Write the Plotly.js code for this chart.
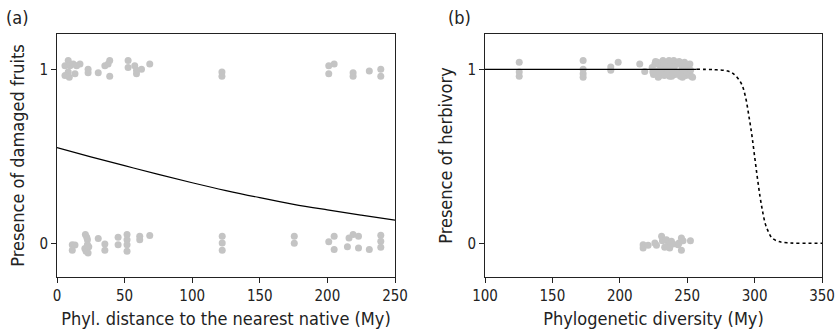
<!DOCTYPE html>
<html>
<head>
<meta charset="utf-8">
<script src="https://cdn.plot.ly/plotly-3.0.1.min.js"></script>
<style>html,body{margin:0;padding:0;background:#fff;}#chart{width:837px;height:331px;}</style>
</head>
<body>
<div id="chart"></div>
<script>
// Panel (a): observed points (phylogenetic distance, jittered presence)
const aPtsX = [5.9,8.3,9.6,8.3,12,14.5,13.3,17,23,23,30.5,35.4,39,37.8,39,52.6,52.6,57.5,58.8,58.8,62.5,68.6,5.9,9.1,
  122,122,201,205,201,219,219,231,239.5,239.5,
  11.3,11.3,13.3,21,22.5,22.5,21.5,20.6,23.5,23,22,30.5,35.4,35.4,45.2,45.2,51.8,51.8,51.8,51.8,61.2,61.2,68.6,
  122.2,122.2,122.2,175.5,175.5,205,201,205,216,219,223,214.8,223,231,239.5,239.5,239.5];
const aPtsY = [1.02,1.05,1.02,0.985,1.03,1.02,0.975,1.03,1.00,0.98,0.98,1.02,1.05,1.03,0.96,1.05,1.01,1.02,0.994,0.975,1.00,1.03,0.965,0.955,
  0.985,0.96,1.02,1.03,0.975,0.98,0.96,0.99,1.00,0.96,
  -0.008,-0.04,-0.01,0.05,0.02,-0.008,-0.046,-0.03,-0.02,-0.056,0.035,0.027,-0.004,-0.04,0.035,-0.008,0.05,0.02,-0.008,-0.046,0.04,0.02,0.044,
  0.04,0.002,-0.04,0.04,0.0,0.04,0.008,-0.036,0.03,0.05,0.04,-0.02,-0.027,-0.036,0.046,0.012,-0.023];
// Panel (a): fitted curve read at several distances
const aFitX = [0,25,50,75,100,125,150,175,200,225,250];
const aFitY = [0.55,0.497,0.446,0.396,0.348,0.303,0.262,0.224,0.192,0.162,0.133];

// Panel (b): observed points (phylogenetic diversity, jittered presence)
const bPtsX = [125.4,125.4,125.4,172.8,172.8,172.8,172.8,193.3,193.3,198.8,214.8,218.5,
  224,225,226,227,228,229,230,231,232,233,234,235,236,237,238,239,240,241,242,243,244,245,246,247,248,249,250,251,252,253,254,
  224.5,226.5,228.5,230.5,232.5,234.5,236.5,238.5,240.5,242.5,244.5,246.5,248.5,250.5,252.5,
  217.3,217.3,221,226,227.2,231,231.6,234.6,235.8,237,238.3,239.5,243.2,245.7,246.9,245.7,252.4,233.3,243.9];
const bPtsY = [1.04,0.985,0.96,1.05,1.00,0.975,0.955,1.013,0.994,1.04,1.03,0.988,
  1.01,0.97,1.03,0.99,1.04,0.96,1.02,0.98,1.05,0.965,1.01,0.985,1.04,0.96,1.02,0.995,1.05,0.97,1.03,0.98,1.045,0.96,1.015,0.99,1.04,0.965,1.0,0.975,1.03,0.96,0.955,
  0.985,1.045,0.955,1.0,1.035,0.97,1.05,0.96,1.015,0.975,1.04,0.955,1.025,0.985,0.995,
  -0.008,-0.027,-0.012,0.002,-0.012,0.04,0.015,0.02,-0.012,-0.027,0.012,-0.004,-0.008,0.03,0.015,-0.04,0.015,-0.023,0.002];
// Panel (b): fitted curve, solid over observed range, dotted beyond
const bFitSolidX = [100,150,200,257];
const bFitSolidY = [1,1,1,1];
const bFitDotX = [257,270,280,285,290,293,296,298,300,302,304,306,308,310,313,318,325,335,350];
const bFitDotY = [1,0.998,0.99,0.97,0.92,0.85,0.72,0.62,0.5,0.38,0.27,0.18,0.11,0.07,0.03,0.01,0.002,0,0];

const grey = '#c4c4c4';
const FONT = 'Liberation Sans Narrow, Arial Narrow, DejaVu Sans Condensed, sans-serif';

const traces = [
  {x: aPtsX, y: aPtsY, xaxis: 'x', yaxis: 'y', mode: 'markers', type: 'scatter',
   marker: {color: grey, size: 7}},
  {x: aFitX, y: aFitY, xaxis: 'x', yaxis: 'y', mode: 'lines', type: 'scatter',
   line: {color: '#000', width: 1.2, shape: 'spline'}},
  {x: bPtsX, y: bPtsY, xaxis: 'x2', yaxis: 'y2', mode: 'markers', type: 'scatter',
   marker: {color: grey, size: 7}},
  {x: bFitSolidX, y: bFitSolidY, xaxis: 'x2', yaxis: 'y2', mode: 'lines', type: 'scatter',
   line: {color: '#000', width: 1.2}},
  {x: bFitDotX, y: bFitDotY, xaxis: 'x2', yaxis: 'y2', mode: 'lines', type: 'scatter',
   line: {color: '#000', width: 1.6, dash: 'dot', shape: 'spline'}}
];

const axBase = {
  showline: true, linecolor: '#222', linewidth: 1, mirror: true,
  ticks: 'outside', ticklen: 5, tickwidth: 1, tickcolor: '#222',
  showgrid: false, zeroline: false,
  tickfont: {family: FONT, size: 15, color: '#222'}
};
const titleFont = {family: FONT, size: 18, color: '#222'};

const layout = {
  width: 837, height: 331,
  margin: {l: 0, r: 0, t: 0, b: 0},
  paper_bgcolor: '#fff', plot_bgcolor: '#fff',
  showlegend: false,
  font: {family: FONT, color: '#222'},
  xaxis: Object.assign({}, axBase, {
    domain: [57/837, 395/837], range: [0, 250], tickvals: [0,50,100,150,200,250],
    anchor: 'y',
    title: {text: 'Phyl. distance to the nearest native (My)', font: titleFont, standoff: 8}
  }),
  yaxis: Object.assign({}, axBase, {
    domain: [1-277/331, 1-34/331], range: [-0.194, 1.203], tickvals: [0,1],
    anchor: 'x',
    title: {text: 'Presence of damaged fruits', font: titleFont, standoff: 10}
  }),
  xaxis2: Object.assign({}, axBase, {
    domain: [485/837, 822/837], range: [100, 350], tickvals: [100,150,200,250,300,350],
    anchor: 'y2',
    title: {text: 'Phylogenetic diversity (My)', font: titleFont, standoff: 8}
  }),
  yaxis2: Object.assign({}, axBase, {
    domain: [1-277/331, 1-34/331], range: [-0.194, 1.203], tickvals: [0,1],
    anchor: 'x2',
    title: {text: 'Presence of herbivory', font: titleFont, standoff: 10}
  }),
  annotations: [
    {text: '(a)', xref: 'paper', yref: 'paper', x: 4/837, y: 1-18/331, xanchor: 'left', yanchor: 'middle',
     showarrow: false, font: titleFont},
    {text: '(b)', xref: 'paper', yref: 'paper', x: 446/837, y: 1-18/331, xanchor: 'left', yanchor: 'middle',
     showarrow: false, font: titleFont}
  ]
};

Plotly.newPlot('chart', traces, layout, {displayModeBar: false, staticPlot: true});
</script>
</body>
</html>
